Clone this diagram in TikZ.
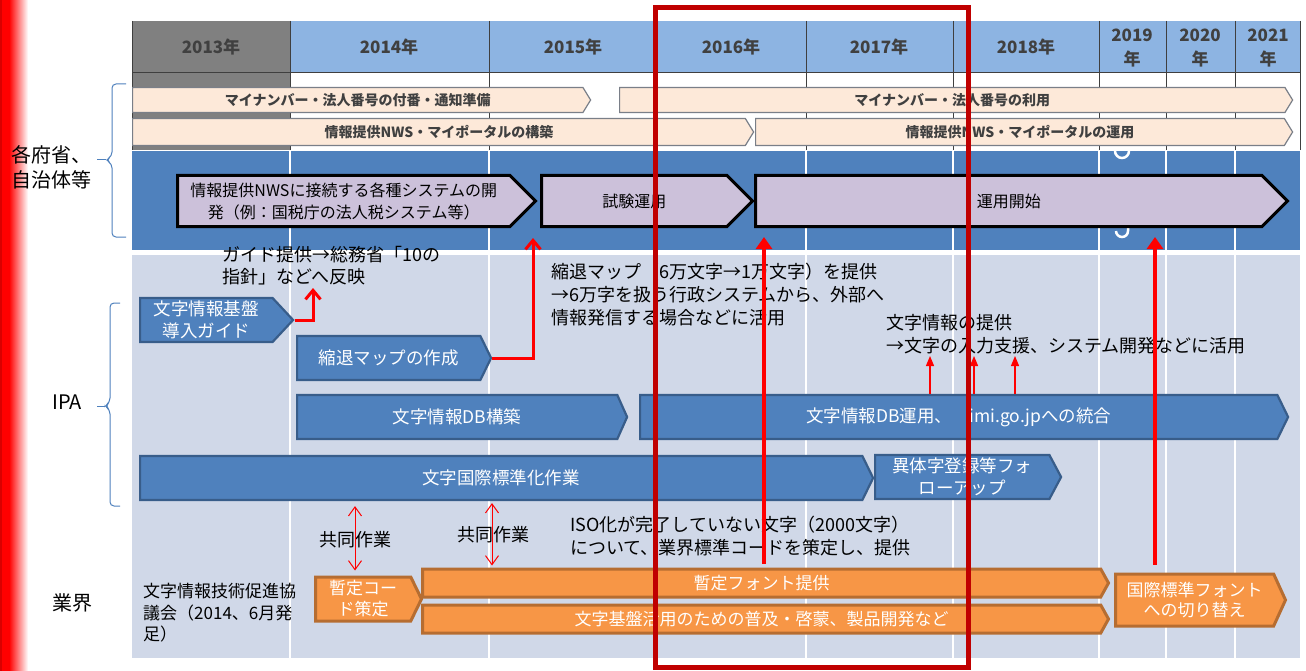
\documentclass[tikz,border=0pt]{standalone}
\usepackage{fontspec}
\setmainfont{Noto Sans CJK JP}
\usetikzlibrary{shapes.symbols,arrows.meta}
\definecolor{hdrblue}{HTML}{8DB4E2}
\definecolor{hdrgray}{HTML}{808080}
\definecolor{bandblue}{HTML}{4F81BD}
\definecolor{bgblue}{HTML}{D0D8E8}
\definecolor{peach}{HTML}{FDE9D9}
\definecolor{peachline}{HTML}{7A7F88}
\definecolor{lilac}{HTML}{CCC1DA}
\definecolor{ipafill}{HTML}{4F81BD}
\definecolor{ipaline}{HTML}{385D8A}
\definecolor{orfill}{HTML}{F79646}
\definecolor{orline}{HTML}{B66D31}
\definecolor{darkred}{HTML}{C00000}
\definecolor{txtgray}{HTML}{404040}
\definecolor{gridline}{HTML}{3F3F3F}
\newcommand\fsz[2]{\fontsize{#1}{#2}\selectfont}
\begin{document}
\begin{tikzpicture}[x=1pt,y=-1pt,
  sigbase/.style={signal, signal to=east, signal from=nowhere, inner sep=0pt, anchor=west, align=center},
  peachbar/.style={sigbase, fill=peach, draw=peachline, line width=1.2pt, minimum height=25pt,
     signal pointer angle=117, font=\fsz{14}{16}\bfseries, text=txtgray},
  purplebox/.style={sigbase, fill=lilac, draw=black, line width=3pt, minimum height=51pt,
     signal pointer angle=90, font=\fsz{16}{22}, text=black},
  ipabox/.style={sigbase, fill=ipafill, draw=ipaline, line width=2.2pt, minimum height=44pt,
     signal pointer angle=128, font=\fsz{17.5}{22}, text=white},
  orbox/.style={sigbase, fill=orfill, draw=orline, line width=3pt, minimum height=44pt,
     signal pointer angle=128, font=\fsz{17}{21}, text=white},
  hdr/.style={font=\fsz{17}{24}\bfseries, text=txtgray, align=center},
  freetext/.style={font=\fsz{18}{23}, text=black, align=left, anchor=west, inner sep=0pt},
  sidelabel/.style={font=\fsz{20}{25}, text=black, align=left},
  brace/.style={draw=bandblue, line width=1pt, rounded corners=4pt},
  gridv/.style={draw=gridline, line width=1pt},
  gridw/.style={draw=white, line width=1.5pt},
  midarrow/.style={draw=red, line width=3pt, -{Straight Barb[length=9pt,width=15pt]}},
  bigarrow/.style={draw=red, line width=4.5pt, -{Triangle[length=12pt,width=16pt]}},
  thinarrow/.style={draw=red, line width=1.2pt, -{Triangle[length=10pt,width=8pt]}},
  dblarrow/.style={draw=red, line width=1pt, {Straight Barb[length=9pt,width=13pt]}-{Straight Barb[length=9pt,width=13pt]}}
]
\useasboundingbox (0,0) rectangle (1306,671);
\fill[white] (0,0) rectangle (1306,671);
% left red bar
\fill[red!85!black] (0,0) rectangle (2,671);
\fill[red] (2,0) rectangle (9,671);
\shade[left color=red, right color=white] (9,0) rectangle (28,671);

% header
\fill[hdrgray] (132,21) rectangle (290,150);
\fill[hdrblue] (290,21) rectangle (1300,73);
\foreach \xx in {132,290,489,657,806,953,1099,1166,1235,1300}
  \draw[gridv] (\xx,21) -- (\xx,150);
\draw[gridv] (132,73) -- (1300,73);
\node[hdr] (y13) at (211,47) {2013年};
\node[hdr] (y14) at (389,47) {2014年};
\node[hdr] (y15) at (573,47) {2015年};
\node[hdr] (y16) at (731,47) {2016年};
\node[hdr] (y17) at (879,47) {2017年};
\node[hdr] (y18) at (1026,47) {2018年};
\node[hdr] (y19) at (1132,48) {2019\\年};
\node[hdr] (y20) at (1200,48) {2020\\年};
\node[hdr] (y21) at (1268,48) {2021\\年};

% peach bars
\node[peachbar, minimum width=458pt] (m1a) at (132,100) {マイナンバー・法人番号の付番・通知準備};
\node[peachbar, minimum width=673pt] (m1b) at (619,100) {マイナンバー・法人番号の利用};
\node[peachbar, minimum width=621pt, minimum height=27pt] (m2a) at (132,132) {情報提供NWS・マイポータルの構築};
\node[peachbar, minimum width=537pt, minimum height=27pt] (m2b) at (755,132) {情報提供NWS・マイポータルの運用};

% blue band
\fill[bandblue] (132,151) rectangle (1300,250);
\foreach \xx in {290,489,657,806,953,1099,1166,1235}
  \draw[gridw] (\xx,151) -- (\xx,250);
\draw[white, line width=2.5pt] (1115,151) arc[start angle=180, end angle=0, radius=7];
\draw[white, line width=2.5pt] (1128,228) -- (1128,231) arc[start angle=0, end angle=180, radius=6];

% gray area
\fill[bgblue] (132,255) rectangle (1300,658);
\foreach \xx in {290,489,657,806,953,1099,1166,1235}
  \draw[gridw] (\xx,255) -- (\xx,658);

% purple boxes
\node[purplebox, minimum width=358pt] (p1) at (176,201) {情報提供NWSに接続する各種システムの開\\発（例：国税庁の法人税システム等）};
\node[purplebox, minimum width=211pt] (p2) at (540,201) {試験運用};
\node[purplebox, minimum width=532pt] (p3) at (754,201) {運用開始};

% side labels and braces
\node[sidelabel] (lgov) at (51,167) {各府省、\\自治体等};
\node[sidelabel] (lipa) at (67,402) {IPA};
\node[sidelabel] (lind) at (72,603) {業界};
\draw[brace] (126,84) -- (112,84) -- (112,156) -- (106,160) -- (112,164) -- (112,237) -- (126,237);
\draw[draw=bandblue, line width=1pt] (106,160) -- (97,160);
\draw[brace] (120,303) -- (110,303) -- (110,402) -- (105,406) -- (110,410) -- (110,506) -- (120,506);
\draw[draw=bandblue, line width=1pt] (105,406) -- (97,406);

% IPA boxes
\node[ipabox, minimum width=153pt, signal pointer angle=94] (guide) at (139,320) {文字情報基盤\\導入ガイド};
\node[ipabox, minimum width=194pt] (shrink) at (296,358) {縮退マップの作成};
\node[ipabox, minimum width=330pt, signal pointer angle=132] (dbbuild) at (296,417) {文字情報DB構築};
\node[ipabox, minimum width=648pt] (dbop) at (639,417) {文字情報DB運用、　imi.go.jpへの統合};
\node[ipabox, minimum width=733pt] (intl) at (139,478) {文字国際標準化作業};
\node[ipabox, minimum width=186pt, signal pointer angle=124] (variant) at (874,477) {異体字登録等フォ\\ローアップ};

% orange boxes
\node[orbox, minimum width=106pt] (tmpcode) at (314,599) {暫定コー\\ド策定};
\node[orbox, minimum width=686pt, minimum height=28pt, signal pointer angle=122] (font1) at (421,583) {暫定フォント提供};
\node[orbox, minimum width=686pt, minimum height=28pt, signal pointer angle=122] (font2) at (421,619) {文字基盤活用のための普及・啓蒙、製品開発など};
\node[orbox, minimum width=170pt, minimum height=52pt, signal pointer angle=131, font=\fsz{17}{20}] (intlfont) at (1114,600) {国際標準フォント\\への切り替え};

% free texts
\node[freetext, font=\fsz{18}{22}] (gtext) at (222,266) {ガイド提供→総務省「10の\\指針」などへ反映};
\node[freetext] (stext) at (551,295) {縮退マップ（6万文字→1万文字）を提供\\→6万字を扱う行政システムから、外部へ\\情報発信する場合などに活用};
\node[freetext] (itext) at (886,334.5) {文字情報の提供\\→文字の入力支援、システム開発などに活用};
\node[freetext] (isotext) at (570,536.5) {ISO化が完了していない文字（2000文字）\\について、業界標準コードを策定し、提供};
\node[freetext, font=\fsz{17}{21.5}] (council) at (143,613) {文字情報技術促進協\\議会（2014、6月発\\足）};
\node[font=\fsz{18}{22}, inner sep=0pt] (kyo1) at (355,540) {共同作業};
\node[font=\fsz{18}{22}, inner sep=0pt] (kyo2) at (493,535) {共同作業};

% connectors
\coordinate (gEnd) at (313,288);
\draw[midarrow] (guide.east) -| (gEnd);
\coordinate (sEnd) at (533,238);
\draw[midarrow] (shrink.east) -| (sEnd);
\coordinate (t1) at (930,356);
\coordinate (t2) at (974,356);
\coordinate (t3) at (1015,356);
\draw[thinarrow] (t1 |- dbop.north) -- (t1);
\draw[thinarrow] (t2 |- dbop.north) -- (t2);
\draw[thinarrow] (t3 |- dbop.north) -- (t3);
\coordinate (d1) at (355,0);
\coordinate (d2) at (492,0);
\draw[dblarrow, shorten <=5pt, shorten >=5pt] (d1 |- intl.south) -- (d1 |- tmpcode.north);
\draw[dblarrow, shorten <=2pt, shorten >=2pt] (d2 |- intl.south) -- (d2 |- font1.north);
\coordinate (bigA) at (764,237);
\coordinate (bigB) at (1155,237);
\draw[bigarrow, shorten <=4pt] (bigA |- font1.north) -- (bigA);
\draw[bigarrow, shorten <=8pt] (bigB |- intlfont.north) -- (bigB);

% highlight rectangle
\draw[darkred, line width=5pt] (655,8) rectangle (968,667);
\end{tikzpicture}
\end{document}
